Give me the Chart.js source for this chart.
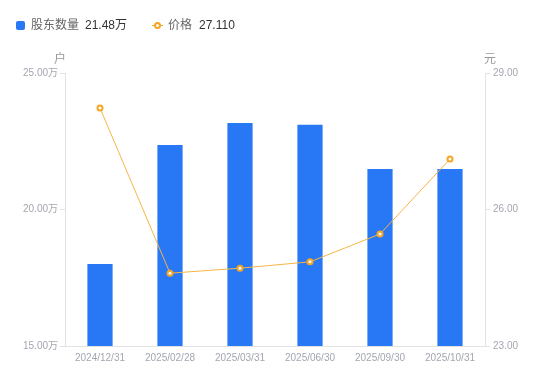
<!DOCTYPE html>
<html><head><meta charset="utf-8">
<script src="https://cdn.jsdelivr.net/npm/chart.js@4/dist/chart.umd.min.js"></script>
<style>
html,body{margin:0;padding:0;background:#fff;}
#wrap{position:relative;width:550px;height:381px;font-family:"Liberation Sans","Noto Sans CJK SC",sans-serif;}
canvas{position:absolute;left:0;top:0;}
.lg{position:absolute;top:18px;font-size:12px;line-height:15px;white-space:nowrap;}
.lg .n{color:#666;}
.lg .v{color:#333;margin-left:6px;}
.unit{position:absolute;top:49px;font-size:12px;color:#999;}
</style></head>
<body><div id="wrap">
<canvas id="c" width="550" height="381"></canvas>
<div class="lg" style="left:16px;"><span style="display:inline-block;width:9px;height:9px;background:#2878f5;border-radius:2px;margin-right:6px;vertical-align:-1px;"></span><span class="n">股东数量</span><span class="v">21.48万</span></div>
<div class="lg" style="left:152px;"><span style="display:inline-block;position:relative;width:11px;height:9px;margin-right:5px;vertical-align:-1px;"><span style="position:absolute;left:0;top:4px;width:11px;height:1px;background:#f5a623;"></span><span style="position:absolute;left:2px;top:1px;width:3px;height:3px;border:2px solid #f5a623;border-radius:50%;background:#fff;"></span></span><span class="n">价格</span><span class="v" style="margin-left:7px;">27.110</span></div>
<div class="unit" style="left:54px;">户</div>
<div class="unit" style="left:484px;">元</div>
</div>
<script>
const categories = ["2024/12/31","2025/02/28","2025/03/31","2025/06/30","2025/09/30","2025/10/31"];
const holders = [18.00, 22.36, 23.17, 23.10, 21.48, 21.48];
const prices = [28.23, 24.60, 24.71, 24.85, 25.46, 27.11];
const leftTicks = [15, 20, 25];
const rightTicks = [23, 26, 29];

const tickColor = "#a3a6b0";
const axisColor = "#e3e3e3";
const font = {family: "'Liberation Sans','Noto Sans CJK SC',sans-serif", size: 10};

new Chart(document.getElementById('c'), {
  data: {
    labels: categories,
    datasets: [
      {type: 'line', data: prices, yAxisID: 'y1', borderColor: '#f7b545', borderWidth: 1,
       pointRadius: 2.5, pointBorderWidth: 2, pointBackgroundColor: '#fff', pointBorderColor: '#f5a623',
       tension: 0, order: 0},
      {type: 'bar', data: holders, yAxisID: 'y', backgroundColor: '#2878f5',
       barPercentage: 0.36, categoryPercentage: 1, order: 1}
    ]
  },
  options: {
    responsive: false, animation: false,
    layout: {padding: {top: 73, bottom: 0, left: 0, right: 0}},
    plugins: {legend: {display: false}, tooltip: {enabled: false}},
    scales: {
      x: {
        grid: {display: false, drawTicks: false},
        border: {color: axisColor},
        ticks: {color: tickColor, font: font, padding: 6, maxRotation: 0},
        afterFit: s => { s.height = 35; }
      },
      y: {
        position: 'left', min: 15, max: 25,
        afterBuildTicks: s => { s.ticks = leftTicks.map(v => ({value: v})); },
        grid: {drawOnChartArea: false, tickLength: 5, color: axisColor},
        border: {color: axisColor},
        ticks: {color: tickColor, font: font, padding: 2, callback: v => v.toFixed(2) + '万'},
        afterFit: s => { s.width = 65; }
      },
      y1: {
        position: 'right', min: 23, max: 29,
        afterBuildTicks: s => { s.ticks = rightTicks.map(v => ({value: v})); },
        grid: {drawOnChartArea: false, tickLength: 5, color: axisColor},
        border: {color: axisColor},
        ticks: {color: tickColor, font: font, padding: 3, callback: v => v.toFixed(2)},
        afterFit: s => { s.width = 65; }
      }
    }
  }
});
</script>
</body></html>
